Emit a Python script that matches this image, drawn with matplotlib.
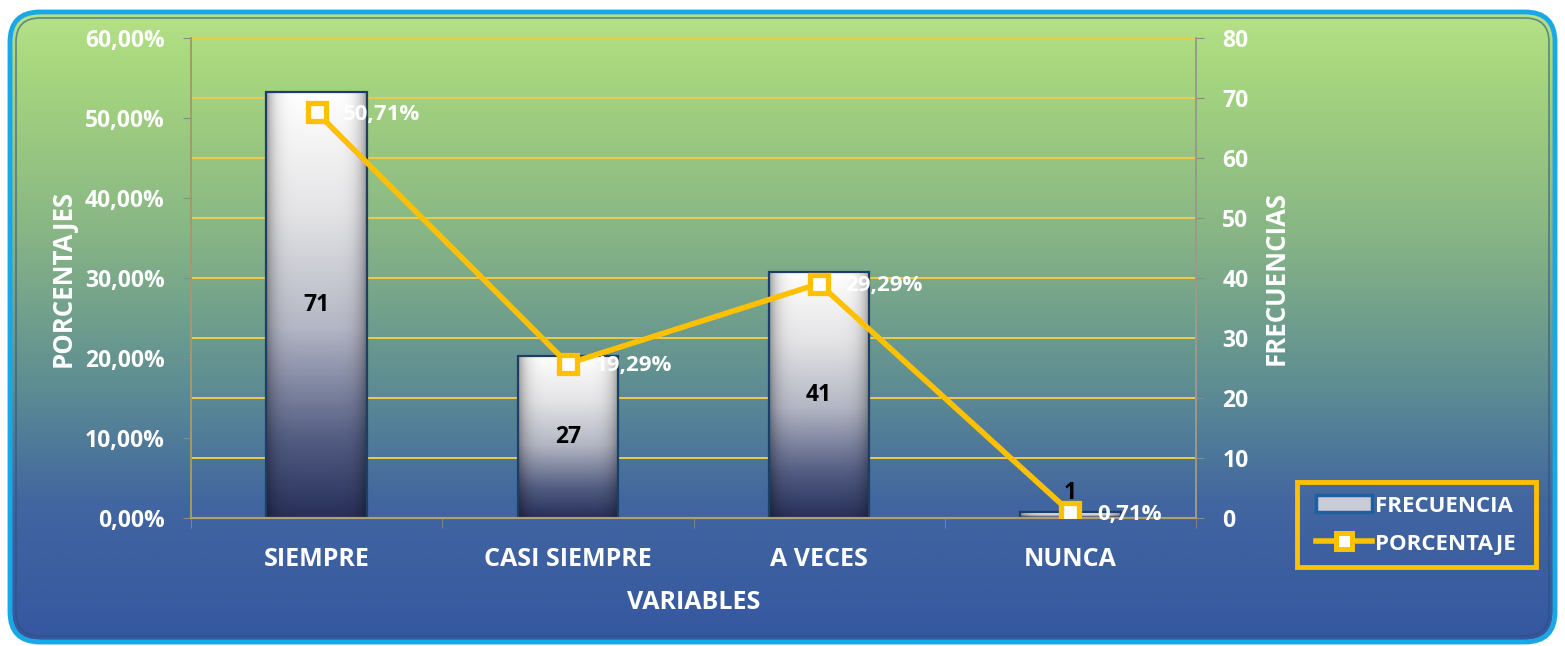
import numpy as np
import matplotlib
matplotlib.use('Agg')
import matplotlib.pyplot as plt
from matplotlib.patches import FancyBboxPatch, Patch, Rectangle
from matplotlib.lines import Line2D
from matplotlib.colors import LinearSegmentedColormap

# data
categorias = ['SIEMPRE', 'CASI SIEMPRE', 'A VECES', 'NUNCA']
frecuencias = [71, 27, 41, 1]
porcentajes = [50.71, 19.29, 29.29, 0.71]
pct_ticks = [0, 10, 20, 30, 40, 50, 60]
freq_ticks = [0, 10, 20, 30, 40, 50, 60, 70, 80]

plt.rcParams['font.family'] = ['Open Sans', 'DejaVu Sans']
plt.rcParams['font.weight'] = 'bold'

W, H = 1565, 646
fig = plt.figure(figsize=(W / 100, H / 100), dpi=100)

# background panel with green -> blue gradient
bg = fig.add_axes([0, 0, 1, 1])
bg.set_xlim(0, W)
bg.set_ylim(H, 0)
bg.axis('off')
bg_cmap = LinearSegmentedColormap.from_list('bg', [
    (0.0, '#b6e28a'), (0.08, '#a9d87e'), (0.35, '#88b685'),
    (0.6, '#5d8c93'), (0.78, '#4166a0'), (1.0, '#3657a0')])
grad = np.linspace(0, 1, 256).reshape(-1, 1)
panel = FancyBboxPatch((12, 14), W - 24, H - 20, boxstyle='round,pad=0,rounding_size=28',
                       facecolor='none', edgecolor='none', transform=bg.transData)
bg.add_patch(panel)
img = bg.imshow(grad, cmap=bg_cmap, aspect='auto', extent=(8, W - 6, H - 4, 10))
img.set_clip_path(panel)
border = FancyBboxPatch((10, 12), W - 20, H - 16, boxstyle='round,pad=0,rounding_size=30',
                        facecolor='none', edgecolor='#19a8e6', linewidth=3.5)
bg.add_patch(border)
inner = FancyBboxPatch((16, 18), W - 32, H - 28, boxstyle='round,pad=0,rounding_size=24',
                       facecolor='none', edgecolor='#2c4f7a', linewidth=1.2, alpha=0.6)
bg.add_patch(inner)

# legend frame
bg.add_patch(Rectangle((1297, 482), 239, 85, facecolor='none', edgecolor='#ffc000', linewidth=3.5))

# main axes: left = percentage (line), right = frequency (bars)
ax = fig.add_axes([191 / W, 1 - 518 / H, 1005 / W, 480 / H])
ax2 = ax.twinx()
ax.set_zorder(ax2.get_zorder() + 1)
ax.patch.set_visible(False)
ax2.patch.set_visible(False)

x = np.arange(len(categorias))
bar_w = 0.4
bar_cmap = LinearSegmentedColormap.from_list('bar', [
    (0.0, '#28305a'), (0.18, '#525c82'), (0.45, '#b4b7c4'), (0.72, '#e4e4e6'), (1.0, '#ffffff')])
bars = ax2.bar(x, frecuencias, width=bar_w, color='none', edgecolor='#1b3f66', linewidth=1.6, zorder=3)
for b in bars:
    h = b.get_height()
    xs = np.linspace(-1, 1, 60)
    side = 1 - 0.35 * np.abs(xs) ** 6
    vert = np.linspace(0, 1, 200).reshape(-1, 1)
    rgb = bar_cmap(vert)[:, :, :3] * side[None, :, None]
    im = ax2.imshow(rgb[::-1], extent=(b.get_x(), b.get_x() + b.get_width(), 0, max(h, 0.6)),
                    aspect='auto', zorder=2.5, interpolation='bilinear')
    im.set_clip_path(b)

for xi, f in zip(x, frecuencias):
    if f > 5:
        ax2.text(xi, f / 2, str(f), ha='center', va='center', color='black',
                 fontsize=16.5, fontweight='bold', zorder=5)
    else:
        ax2.text(xi, f + 1.2, str(f), ha='center', va='bottom', color='black',
                 fontsize=16.5, fontweight='bold', zorder=5)

ax.plot(x, porcentajes, color='#ffc000', linewidth=4, marker='s', markersize=13,
        markerfacecolor='white', markeredgecolor='#ffc000', markeredgewidth=3.8, zorder=4)
for xi, p in zip(x, porcentajes):
    ax.annotate(f'{p:.2f}%'.replace('.', ','), (xi, p), xytext=(19, -1.5), textcoords='offset points',
                ha='left', va='center', color='white', fontsize=16, fontweight='bold', zorder=5)

ax.set_xlim(-0.5, len(categorias) - 0.5)
ax.set_ylim(0, 60)
ax2.set_ylim(0, 80)

ax.set_yticks(pct_ticks)
ax.set_yticklabels([f'{t:.2f}%'.replace('.', ',') for t in pct_ticks])
ax2.set_yticks(freq_ticks)
ax2.set_yticklabels([str(t) for t in freq_ticks])
ax.set_xticks(x)
ax.set_xticklabels(categorias)
ax.set_xticks(np.arange(-0.5, len(categorias)), minor=True)

ax.tick_params(axis='y', colors='white', labelsize=16.5, length=6, color='#8a8a8a', pad=13)
ax2.tick_params(axis='y', colors='white', labelsize=16.5, length=6, color='#8a8a8a', pad=13)
ax.tick_params(axis='x', which='major', length=0, labelsize=18, labelcolor='white', pad=21)
ax.tick_params(axis='x', which='minor', length=7, color='#8a8a8a')
for lab in ax.get_yticklabels() + ax2.get_yticklabels() + ax.get_xticklabels():
    lab.set_fontweight('bold')
    lab.set_color('white')

ax2.yaxis.grid(True, color='#f2c94c', linewidth=1.4, zorder=0)
ax2.set_axisbelow(True)

for a in (ax, ax2):
    a.spines['top'].set_visible(False)
    a.spines['left'].set_color('#a89868')
    a.spines['right'].set_color('#9a9a8a')
    a.spines['bottom'].set_color('#b0a070')
    a.spines['left'].set_linewidth(1.2)
    a.spines['right'].set_linewidth(1.2)
    a.spines['bottom'].set_linewidth(1.5)

ax.set_ylabel('PORCENTAJES', color='white', fontsize=18.5, fontweight='bold', labelpad=6)
ax2.set_ylabel('FRECUENCIAS', color='white', fontsize=18.5, fontweight='bold', labelpad=10)
ax.set_xlabel('VARIABLES', color='white', fontsize=18, fontweight='bold', labelpad=13)

handles = [
    Patch(facecolor='#c9ccd6', edgecolor='#1f5f9f', linewidth=2.5),
    Line2D([0], [0], color='#ffc000', linewidth=4, marker='s', markersize=11,
           markerfacecolor='white', markeredgecolor='#ffc000', markeredgewidth=3.6),
]
leg = fig.legend(handles, ['FRECUENCIA', 'PORCENTAJE'], loc='center left',
                 bbox_to_anchor=(1316 / W, 1 - 525 / H),
                 frameon=False, handlelength=2.5, handleheight=0.8,
                 handletextpad=0.15, labelspacing=0.75, borderpad=0, borderaxespad=0,
                 prop={'size': 16, 'weight': 'bold'})
for t in leg.get_texts():
    t.set_color('white')

fig.savefig('out.png', dpi=100)
